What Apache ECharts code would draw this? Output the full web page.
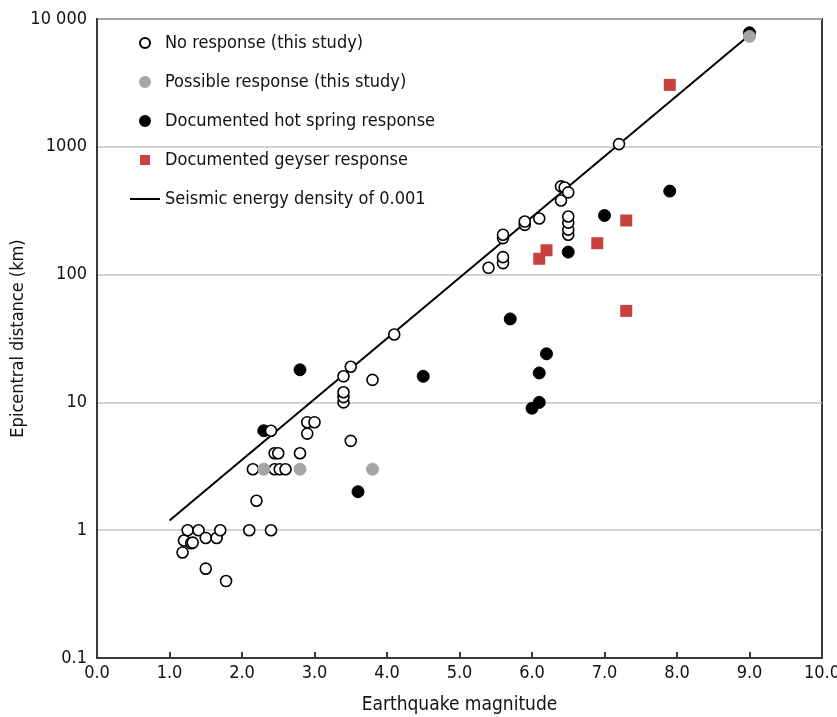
<!DOCTYPE html>
<html>
<head>
<meta charset="utf-8">
<script src="https://cdn.jsdelivr.net/npm/echarts@6/dist/echarts.min.js"></script>
<style>
  html, body { margin: 0; padding: 0; background: #fff; }
  #chart { width: 837px; height: 717px; }
</style>
</head>
<body>
<div id="chart"></div>
<script>
// Earthquake magnitude vs. epicentral distance (km) for each response class
const noResponse = [
  [1.18, 0.67], [1.2, 0.83], [1.25, 1.0], [1.3, 0.79], [1.32, 0.8], [1.4, 1.0],
  [1.5, 0.87], [1.5, 0.5], [1.65, 0.87], [1.7, 1.0], [1.78, 0.4], [2.1, 1.0],
  [2.2, 1.7], [2.4, 1.0], [2.15, 3], [2.45, 3], [2.52, 3], [2.6, 3], [2.45, 4],
  [2.5, 4], [2.8, 4], [2.4, 6], [2.9, 5.7], [2.9, 7], [3.0, 7], [3.4, 10],
  [3.4, 11], [3.4, 12], [3.4, 16], [3.5, 19], [3.5, 5], [3.8, 15], [4.1, 34],
  [5.4, 113], [5.6, 123], [5.6, 137], [5.6, 193], [5.6, 205], [5.9, 245],
  [5.9, 260], [6.1, 275], [6.4, 380], [6.4, 490], [6.45, 480], [6.5, 440],
  [6.5, 205], [6.5, 225], [6.5, 255], [6.5, 285], [7.2, 1050]
];
const possibleResponse = [[2.3, 3], [2.8, 3], [3.8, 3], [9.0, 7300]];
const hotSpring = [
  [2.3, 6], [2.8, 18], [3.6, 2], [4.5, 16], [5.7, 45], [6.0, 9], [6.1, 10],
  [6.1, 17], [6.2, 24], [6.5, 150], [7.0, 290], [7.9, 450], [9.0, 7800]
];
const geyser = [[6.1, 133], [6.2, 155], [6.9, 176], [7.3, 265], [7.3, 52], [7.9, 3050]];
// Distance at which seismic energy density equals 0.001 J/m^3
const energyDensityLine = [[1.0, 1.19], [9.0, 7500]];

const yTickLabels = ['0.1', '1', '10', '100', '1000', '10 000'];
const seriesNames = [
  'No response (this study)',
  'Possible response (this study)',
  'Documented hot spring response',
  'Documented geyser response',
  'Seismic energy density of 0.001'
];

const FONT = '"Liberation Sans Narrow", "DejaVu Sans Condensed", "Roboto", sans-serif';
const chart = echarts.init(document.getElementById('chart'), null, { renderer: 'canvas' });

chart.setOption({
  backgroundColor: '#fff',
  animation: false,
  textStyle: { fontFamily: FONT },
  grid: {
    left: 97, right: 15, top: 19, bottom: 59,
    outerBoundsMode: 'none',
    containLabel: false,
    show: true, borderColor: '#3a3a3a', borderWidth: 2
  },
  legend: {
    data: [
      { name: seriesNames[0] },
      { name: seriesNames[1] },
      { name: seriesNames[2] },
      { name: seriesNames[3], icon: 'path://M0 0H10V10H0Z' },
      { name: seriesNames[4], icon: 'path://M0 0H30V2H0Z' }
    ],
    orient: 'vertical',
    left: 130,
    top: 33,
    padding: 0,
    itemWidth: 30,
    itemHeight: 10,
    itemGap: 19,
    symbolKeepAspect: true,
    textStyle: { fontFamily: FONT, fontSize: 18, color: '#111', lineHeight: 20 }
  },
  xAxis: {
    type: 'value',
    min: 0, max: 10, interval: 1,
    name: 'Earthquake magnitude',
    nameLocation: 'middle',
    nameGap: 38,
    nameMoveOverlap: false,
    nameTextStyle: { fontFamily: FONT, fontSize: 19, color: '#111' },
    axisLine: { show: true, lineStyle: { color: '#3a3a3a', width: 2 } },
    axisTick: { show: true, inside: true, length: 6, lineStyle: { color: '#3a3a3a', width: 2 } },
    axisLabel: {
      fontFamily: FONT, fontSize: 18, color: '#111', margin: 6,
      formatter: v => v.toFixed(1)
    },
    splitLine: { show: false }
  },
  yAxis: {
    type: 'log',
    logBase: 10,
    min: 0.1, max: 10000,
    name: 'Epicentral distance (km)',
    nameLocation: 'middle',
    nameGap: 70,
    nameMoveOverlap: false,
    nameTextStyle: { fontFamily: FONT, fontSize: 18, color: '#111' },
    axisLine: { show: true, lineStyle: { color: '#3a3a3a', width: 2 } },
    axisTick: { show: false },
    axisLabel: {
      fontFamily: FONT, fontSize: 18, color: '#111', margin: 10,
      formatter: v => yTickLabels[Math.round(Math.log10(v)) + 1]
    },
    splitLine: { show: true, lineStyle: { color: '#c4c4c4', width: 1.5 } }
  },
  series: [
    {
      name: seriesNames[4],
      type: 'line',
      data: energyDensityLine,
      symbol: 'none',
      z: 1,
      lineStyle: { color: '#000', width: 2 },
      itemStyle: { color: '#000' }
    },
    {
      name: seriesNames[2],
      type: 'scatter',
      data: hotSpring,
      symbol: 'circle',
      symbolSize: 12,
      z: 2,
      itemStyle: { color: '#000', borderColor: '#000', borderWidth: 1, opacity: 1 }
    },
    {
      name: seriesNames[0],
      type: 'scatter',
      data: noResponse,
      symbol: 'circle',
      symbolSize: 11,
      z: 3,
      itemStyle: { color: '#fff', borderColor: '#000', borderWidth: 1.6, opacity: 1 }
    },
    {
      name: seriesNames[1],
      type: 'scatter',
      data: possibleResponse,
      symbol: 'circle',
      symbolSize: 12,
      z: 4,
      itemStyle: { color: '#a5a5a5', borderColor: '#a5a5a5', borderWidth: 1, opacity: 1 }
    },
    {
      name: seriesNames[3],
      type: 'scatter',
      data: geyser,
      symbol: 'rect',
      symbolSize: 12,
      z: 5,
      itemStyle: { color: '#c8413d', opacity: 1 }
    }
  ]
});
</script>
</body>
</html>
